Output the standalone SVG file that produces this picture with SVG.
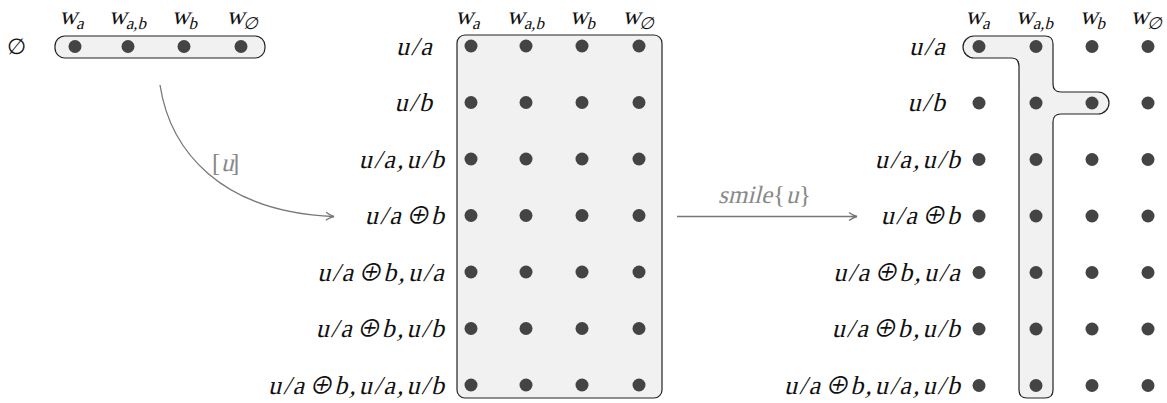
<svg xmlns="http://www.w3.org/2000/svg" width="1167" height="403" viewBox="0 0 1167 403">
<style>
text{font-family:"Liberation Serif","DejaVu Serif",serif;font-style:normal;fill:#111}
.m{font-size:26px;letter-spacing:2.1px}
.h{font-size:25px}
.s{font-size:17px}
.g{fill:#888;font-size:25px}
.op{font-size:24px;font-family:"Noto Sans CJK JP","DejaVu Sans",sans-serif;letter-spacing:0}
.box{fill:#f1f1f1;stroke:#222;stroke-width:1.2}
.d{fill:#444}
.arr{fill:none;stroke:#777;stroke-width:1.3}
</style>
<defs>
<marker id="ah" viewBox="0 0 10 10" refX="9" refY="5" markerWidth="10" markerHeight="10" markerUnits="userSpaceOnUse" orient="auto">
<path d="M1,1 Q5,4 9,5 Q5,6 1,9" fill="none" stroke="#777" stroke-width="1.3"/>
</marker>
<circle id="dot" r="6.5" class="d"/>
</defs>

<g id="left-panel">
<text x="16" y="54" font-size="22" text-anchor="middle">∅</text>
<g transform="translate(72,24) skewX(-14)"><text class="h" text-anchor="middle">w<tspan class="s" dy="5">a</tspan></text></g>
<g transform="translate(128,24) skewX(-14)"><text class="h" text-anchor="middle">w<tspan class="s" dy="5">a,b</tspan></text></g>
<g transform="translate(185,24) skewX(-14)"><text class="h" text-anchor="middle">w<tspan class="s" dy="5">b</tspan></text></g>
<g transform="translate(243,24) skewX(-14)"><text class="h" text-anchor="middle">w<tspan class="s" dy="5">∅</tspan></text></g>
<rect class="box" x="55" y="36" width="210" height="22" rx="10"/>
<use href="#dot" x="75" y="46.5"/><use href="#dot" x="128" y="46.5"/><use href="#dot" x="184" y="46.5"/><use href="#dot" x="241" y="46.5"/>
</g>

<g id="middle-panel">
<g transform="translate(468,24) skewX(-14)"><text class="h" text-anchor="middle">w<tspan class="s" dy="5">a</tspan></text></g>
<g transform="translate(526,24) skewX(-14)"><text class="h" text-anchor="middle">w<tspan class="s" dy="5">a,b</tspan></text></g>
<g transform="translate(583,24) skewX(-14)"><text class="h" text-anchor="middle">w<tspan class="s" dy="5">b</tspan></text></g>
<g transform="translate(639,24) skewX(-14)"><text class="h" text-anchor="middle">w<tspan class="s" dy="5">∅</tspan></text></g>
<g transform="translate(434,54.5) skewX(-14)"><text class="m" text-anchor="end">u/a</text></g>
<g transform="translate(434,111) skewX(-14)"><text class="m" text-anchor="end">u/b</text></g>
<g transform="translate(446,167.5) skewX(-14)"><text class="m" text-anchor="end">u/a,<tspan dx="1">u/b</tspan></text></g>
<g transform="translate(446,224) skewX(-14)"><text class="m" text-anchor="end">u/a<tspan class="op" dx="2">⊕</tspan><tspan dx="2">b</tspan></text></g>
<g transform="translate(446,280.5) skewX(-14)"><text class="m" text-anchor="end">u/a<tspan class="op" dx="2">⊕</tspan><tspan dx="2">b,</tspan><tspan dx="1">u/a</tspan></text></g>
<g transform="translate(446,337) skewX(-14)"><text class="m" text-anchor="end">u/a<tspan class="op" dx="2">⊕</tspan><tspan dx="2">b,</tspan><tspan dx="1">u/b</tspan></text></g>
<g transform="translate(446,393.5) skewX(-14)"><text class="m" text-anchor="end">u/a<tspan class="op" dx="2">⊕</tspan><tspan dx="2">b,</tspan><tspan dx="1">u/a,</tspan><tspan dx="1">u/b</tspan></text></g>
<rect class="box" x="457" y="35" width="205" height="363" rx="8"/>
<g>
<use href="#dot" x="471" y="46"/><use href="#dot" x="526" y="46"/><use href="#dot" x="582" y="46"/><use href="#dot" x="639" y="46"/>
<use href="#dot" x="471" y="102.5"/><use href="#dot" x="526" y="102.5"/><use href="#dot" x="582" y="102.5"/><use href="#dot" x="639" y="102.5"/>
<use href="#dot" x="471" y="159"/><use href="#dot" x="526" y="159"/><use href="#dot" x="582" y="159"/><use href="#dot" x="639" y="159"/>
<use href="#dot" x="471" y="215.5"/><use href="#dot" x="526" y="215.5"/><use href="#dot" x="582" y="215.5"/><use href="#dot" x="639" y="215.5"/>
<use href="#dot" x="471" y="272"/><use href="#dot" x="526" y="272"/><use href="#dot" x="582" y="272"/><use href="#dot" x="639" y="272"/>
<use href="#dot" x="471" y="328.5"/><use href="#dot" x="526" y="328.5"/><use href="#dot" x="582" y="328.5"/><use href="#dot" x="639" y="328.5"/>
<use href="#dot" x="471" y="385"/><use href="#dot" x="526" y="385"/><use href="#dot" x="582" y="385"/><use href="#dot" x="639" y="385"/>
</g>
</g>

<g id="right-panel">
<g transform="translate(978,24) skewX(-14)"><text class="h" text-anchor="middle">w<tspan class="s" dy="5">a</tspan></text></g>
<g transform="translate(1035,24) skewX(-14)"><text class="h" text-anchor="middle">w<tspan class="s" dy="5">a,b</tspan></text></g>
<g transform="translate(1093,24) skewX(-14)"><text class="h" text-anchor="middle">w<tspan class="s" dy="5">b</tspan></text></g>
<g transform="translate(1147,24) skewX(-14)"><text class="h" text-anchor="middle">w<tspan class="s" dy="5">∅</tspan></text></g>
<g transform="translate(947,54.5) skewX(-14)"><text class="m" text-anchor="end">u/a</text></g>
<g transform="translate(947,111) skewX(-14)"><text class="m" text-anchor="end">u/b</text></g>
<g transform="translate(962,167.5) skewX(-14)"><text class="m" text-anchor="end">u/a,<tspan dx="1">u/b</tspan></text></g>
<g transform="translate(962,224) skewX(-14)"><text class="m" text-anchor="end">u/a<tspan class="op" dx="2">⊕</tspan><tspan dx="2">b</tspan></text></g>
<g transform="translate(962,280.5) skewX(-14)"><text class="m" text-anchor="end">u/a<tspan class="op" dx="2">⊕</tspan><tspan dx="2">b,</tspan><tspan dx="1">u/a</tspan></text></g>
<g transform="translate(962,337) skewX(-14)"><text class="m" text-anchor="end">u/a<tspan class="op" dx="2">⊕</tspan><tspan dx="2">b,</tspan><tspan dx="1">u/b</tspan></text></g>
<g transform="translate(962,393.5) skewX(-14)"><text class="m" text-anchor="end">u/a<tspan class="op" dx="2">⊕</tspan><tspan dx="2">b,</tspan><tspan dx="1">u/a,</tspan><tspan dx="1">u/b</tspan></text></g>
<path class="box" d="M974,36 H1045 Q1053,36 1053,44 V84 Q1053,92 1061,92 H1098 A11,11 0 0 1 1098,114 H1061 Q1053,114 1053,122 V390 Q1053,398 1045,398 H1027 Q1019,398 1019,390 V66 Q1019,58 1011,58 H974 A11,11 0 0 1 974,36 Z"/>
<g>
<use href="#dot" x="979" y="46.5"/><use href="#dot" x="1036" y="46.5"/><use href="#dot" x="1092" y="46.5"/><use href="#dot" x="1148" y="46.5"/>
<use href="#dot" x="979" y="103"/><use href="#dot" x="1036" y="103"/><use href="#dot" x="1092" y="103"/><use href="#dot" x="1148" y="103"/>
<use href="#dot" x="979" y="159.5"/><use href="#dot" x="1036" y="159.5"/><use href="#dot" x="1092" y="159.5"/><use href="#dot" x="1148" y="159.5"/>
<use href="#dot" x="979" y="216"/><use href="#dot" x="1036" y="216"/><use href="#dot" x="1092" y="216"/><use href="#dot" x="1148" y="216"/>
<use href="#dot" x="979" y="272.5"/><use href="#dot" x="1036" y="272.5"/><use href="#dot" x="1092" y="272.5"/><use href="#dot" x="1148" y="272.5"/>
<use href="#dot" x="979" y="329"/><use href="#dot" x="1036" y="329"/><use href="#dot" x="1092" y="329"/><use href="#dot" x="1148" y="329"/>
<use href="#dot" x="979" y="385.5"/><use href="#dot" x="1036" y="385.5"/><use href="#dot" x="1092" y="385.5"/><use href="#dot" x="1148" y="385.5"/>
</g>
</g>

<g id="connectors">
<path class="arr" d="M160,85 C170,150 220,212 334,216.5" marker-end="url(#ah)"/>
<g id="label-u">
<text class="g" x="212" y="171">[</text>
<g transform="translate(221,171) skewX(-14)"><text class="g">u</text></g>
<text class="g" x="231" y="171">]</text>
</g>
<path class="arr" d="M677,216.5 H857" marker-end="url(#ah)"/>
<g id="label-smile">
<g transform="translate(718,203) skewX(-14)"><text class="g">smile</text></g>
<text class="g" x="773" y="203">{</text>
<g transform="translate(786,203) skewX(-14)"><text class="g">u</text></g>
<text class="g" x="799" y="203">}</text>
</g>
</g>
</svg>
